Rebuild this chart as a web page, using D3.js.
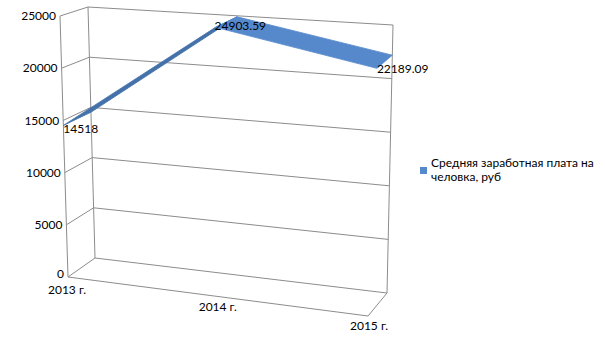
<!DOCTYPE html>
<html><head><meta charset="utf-8">
<script src="https://cdn.jsdelivr.net/npm/d3@7"></script>
<style>
html,body{margin:0;padding:0;background:#fff;}
svg{display:block;font-family:Lato,"Open Sans",sans-serif;}
</style></head>
<body><svg id="c" width="605" height="340"></svg>
<script>
const categories = ["2013 г.", "2014 г.", "2015 г."];
const values = [14518, 24903.59, 22189.09];
const valueLabels = ["14518", "24903.59", "22189.09"];
const yTicks = [0, 5000, 10000, 15000, 20000, 25000];
const seriesName = ["Средняя заработная плата на", "человка, руб"];

const svg = d3.select("#c");

// box corners on screen (front/back, left/right, bottom/top)
const C = {
  FLB:[68,277], FLT:[60,16], FRB:[368,316], FRT:[378,37],
  BLB:[95,258], BLT:[88,7],  BRB:[387,293], BRT:[393,25]
};
const xS = d3.scalePoint().domain(categories).range([0,1]);
const yS = d3.scaleLinear().domain([0,25000]).range([0,1]);
const k = 0.957;
const persp = u => u*k/((1-u)+u*k);
const lerp = (a,b,t)=>[a[0]+(b[0]-a[0])*t, a[1]+(b[1]-a[1])*t];
function P(u,v,w){
  const uu = persp(u);
  const fb = lerp(C.FLB,C.FRB,uu), ft = lerp(C.FLT,C.FRT,uu);
  const bb = lerp(C.BLB,C.BRB,uu), bt = lerp(C.BLT,C.BRT,uu);
  const f = lerp(fb,ft,v), b = lerp(bb,bt,v);
  return lerp(f,b,w);
}
const line = d3.line();
const grid = "#8c8c8c";
const g = svg.append("g");

// side wall gridlines + back wall gridlines
yTicks.forEach(t=>{
  const v = yS(t);
  g.append("path").attr("d", line([P(0,v,0),P(0,v,1),P(1,v,1)]))
    .attr("fill","none").attr("stroke",grid).attr("stroke-width",1);
  const p = P(0,v,0);
  g.append("text").attr("x",p[0]-4).attr("y",p[1]-(t===0?3:0)).attr("dy","0.35em")
    .attr("text-anchor","end").attr("font-size",12).attr("fill","#000").text(d3.format("d")(t));
});
// vertical edges
[[P(0,0,0),P(0,1,0)],[P(0,0,1),P(0,1,1)],[P(1,0,1),P(1,1,1)]].forEach(s=>
  g.append("path").attr("d",line(s)).attr("fill","none").attr("stroke",grid));
// floor front and right edges
g.append("path").attr("d",line([P(0,0,0),P(1,0,0),P(1,0,1)]))
  .attr("fill","none").attr("stroke",grid);

// category labels
const catOff = [[-1,13],[3,11],[1,10]];
categories.forEach((c,i)=>{
  const p = P(xS(c),0,0);
  g.append("text").attr("x",p[0]+catOff[i][0]).attr("y",p[1]+catOff[i][1]).attr("dy","0.35em")
    .attr("text-anchor","middle").attr("font-size",12).text(c);
});

// ribbon
const fills = ["#4471aa","#5589cc"];
for(let i=0;i<values.length-1;i++){
  const u0=xS(categories[i]), u1=xS(categories[i+1]);
  const v0=yS(values[i]), v1=yS(values[i+1]);
  g.append("path").attr("d", line([P(u0,v0,0),P(u1,v1,0),P(u1,v1,1),P(u0,v0,1)])+"Z")
    .attr("fill",fills[i]).attr("stroke",fills[i]).attr("stroke-width",0.8);
}

// data labels
const lblOff = [[0,3],[-1,-2],[0,0]];
values.forEach((v,i)=>{
  const p = P(xS(categories[i]),yS(v),0);
  g.append("text").attr("x",p[0]+lblOff[i][0]).attr("y",p[1]+lblOff[i][1]).attr("dy","0.35em")
    .attr("font-size",12).text(valueLabels[i]);
});

// legend
const lg = svg.append("g").attr("transform","translate(420,167)");
lg.append("rect").attr("width",7).attr("height",7).attr("fill","#5589cc");
seriesName.forEach((s,i)=>{
  lg.append("text").attr("x",11).attr("y",-4+i*13.5).attr("dy","0.35em")
    .attr("font-size",12).text(s);
});
</script></body></html>
